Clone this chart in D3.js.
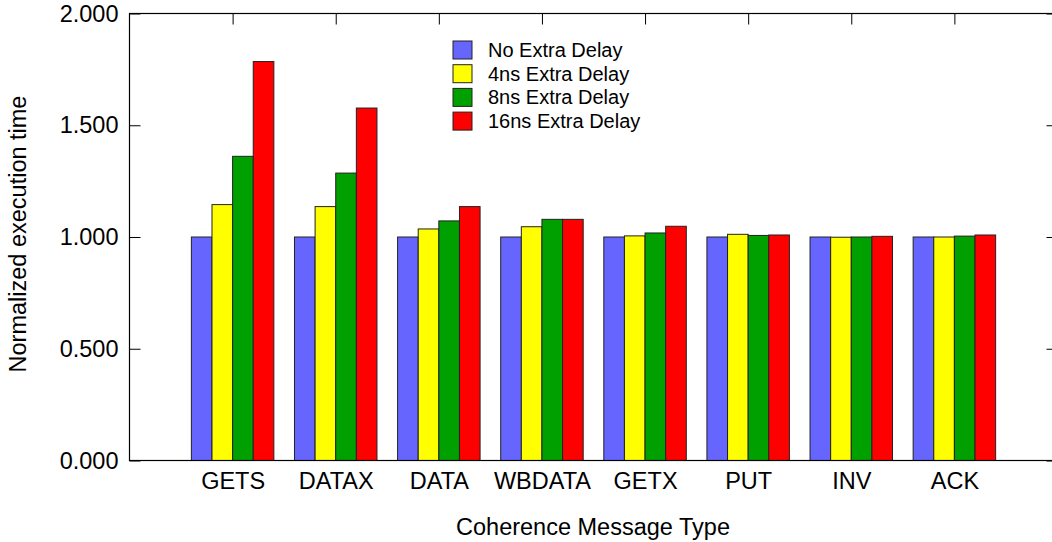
<!DOCTYPE html>
<html lang="en">
<head>
<meta charset="utf-8">
<script src="https://cdn.jsdelivr.net/npm/d3@7"></script>
<style>
    body { margin: 0; background: #fff; }
    svg { display: block; font-family: "Liberation Sans", Arial, sans-serif; }
    .axis path { display: none; }
    .axis line { stroke: #000; stroke-width: 1; }
    .axis text { font-size: 23.5px; fill: #000; }
</style>
</head>
<body>
<div id="chart"></div>
<script>
    // values
    const categories = ['GETS', 'DATAX', 'DATA', 'WBDATA', 'GETX', 'PUT', 'INV', 'ACK'];
    const noDelay  = [1.000, 1.000, 1.000, 1.000, 1.000, 1.000, 1.000, 1.000];
    const delay4   = [1.145, 1.136, 1.036, 1.046, 1.005, 1.012, 0.999, 1.000];
    const delay8   = [1.361, 1.286, 1.072, 1.079, 1.018, 1.007, 1.000, 1.004];
    const delay16  = [1.785, 1.577, 1.136, 1.079, 1.048, 1.009, 1.003, 1.009];
    const seriesNames = ['No Extra Delay', '4ns Extra Delay', '8ns Extra Delay', '16ns Extra Delay'];
    const yTicks = [0, 0.5, 1, 1.5, 2];

    (() => {
        const width = 1052, height = 542;
        const left = 129.5, right = 1057.5, top = 13.5, bottom = 460.5;
        const colors = ['#6666ff', '#ffff00', '#00a000', '#ff0000'];
        const series = [noDelay, delay4, delay8, delay16];
        const barW = 0.2;
        const tick = 11;

        const svg = d3.select('#chart').append('svg')
            .attr('width', width).attr('height', height);

        const x = d3.scaleLinear().domain([-1, 8]).range([left, right]);
        const y = d3.scaleLinear().domain([0, 2]).range([bottom, top]);

        // bars
        series.forEach((vals, s) => {
            svg.append('g')
                .selectAll('rect')
                .data(vals)
                .enter()
                .append('rect')
                .attr('x', (d, i) => x(i + (s - 2) * barW))
                .attr('width', x(barW) - x(0))
                .attr('y', d => y(d))
                .attr('height', d => y(0) - y(d))
                .attr('fill', colors[s])
                .attr('stroke', '#222')
                .attr('stroke-width', 1);
        });

        // y axis, ticks pointing inward
        svg.append('g')
            .attr('class', 'axis')
            .attr('transform', `translate(${left},0)`)
            .call(d3.axisLeft(y).tickValues(yTicks).tickFormat(d3.format('.3f'))
                .tickSizeInner(-tick).tickSizeOuter(0).tickPadding(11));

        // mirrored ticks on the right
        svg.append('g')
            .attr('class', 'axis')
            .attr('transform', `translate(${right},0)`)
            .call(d3.axisRight(y).tickValues(yTicks).tickFormat('')
                .tickSizeInner(-tick).tickSizeOuter(0));

        // x labels
        svg.append('g')
            .attr('class', 'axis')
            .attr('transform', `translate(0,${bottom})`)
            .call(d3.axisBottom(x).tickValues(d3.range(categories.length))
                .tickFormat(i => categories[i]).tickSize(0).tickPadding(12));

        // mirrored ticks on top
        svg.append('g')
            .attr('class', 'axis')
            .attr('transform', `translate(0,${top})`)
            .call(d3.axisTop(x).tickValues(d3.range(categories.length)).tickFormat('')
                .tickSizeInner(-tick).tickSizeOuter(0));

        // frame
        svg.append('rect')
            .attr('x', left).attr('y', top)
            .attr('width', right - left).attr('height', bottom - top)
            .attr('fill', 'none').attr('stroke', '#000').attr('stroke-width', 1.2);

        // axis titles
        svg.append('text')
            .attr('x', 593).attr('y', 535)
            .attr('text-anchor', 'middle')
            .style('font-size', '23.5px')
            .text('Coherence Message Type');
        svg.append('text')
            .attr('transform', 'translate(26,234) rotate(-90)')
            .attr('text-anchor', 'middle')
            .style('font-size', '23.5px')
            .text('Normalized execution time');

        // legend
        const legend = svg.append('g').attr('transform', 'translate(453,50)');
        const row = legend.selectAll('g')
            .data(seriesNames)
            .enter()
            .append('g')
            .attr('transform', (d, i) => `translate(0,${i * 23.7})`);
        row.append('rect')
            .attr('x', 0).attr('y', -9)
            .attr('width', 19).attr('height', 18)
            .attr('fill', (d, i) => colors[i])
            .attr('stroke', '#222').attr('stroke-width', 1);
        row.append('text')
            .attr('x', 35).attr('y', 7)
            .style('font-size', '20px')
            .text(d => d);
    })();
</script>
</body>
</html>
